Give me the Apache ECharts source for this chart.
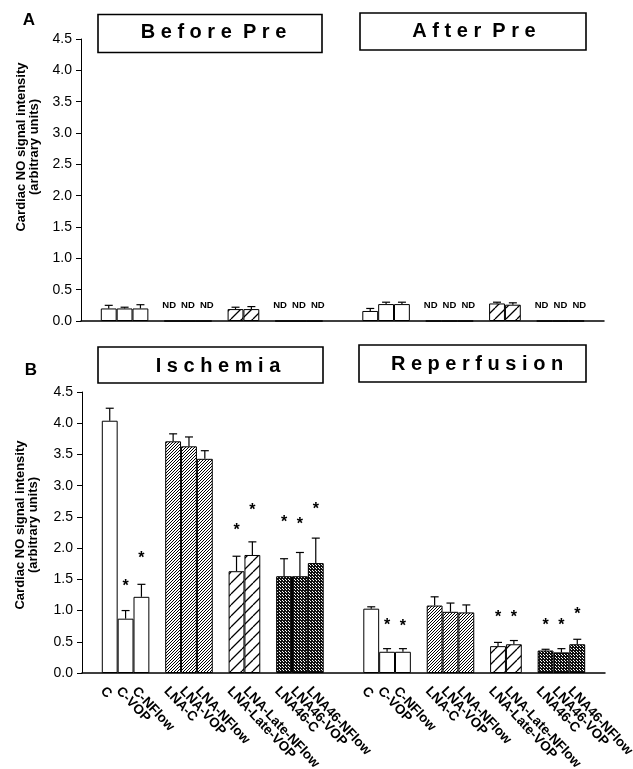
<!DOCTYPE html>
<html>
<head>
<meta charset="utf-8">
<style>
html,body{margin:0;padding:0;background:#fff;}
#chart{width:633px;height:769px;}
</style>
<script src="https://cdn.jsdelivr.net/npm/echarts@6/dist/echarts.min.js"></script>
</head>
<body>
<div id="chart"></div>
<script>
// ---- data ----
const names = ['C','C-VOP','C-NFlow','LNA-C','LNA-VOP','LNA-NFlow','LNA-Late-VOP','LNA-Late-NFlow','LNA46-C','LNA46-VOP','LNA46-NFlow'];
const groupOf = [0,0,0,1,1,1,2,2,3,3,3];
const yTicks = [0,0.5,1.0,1.5,2.0,2.5,3.0,3.5,4.0,4.5];

const beforePre    = [0.20,0.20,0.20,'ND','ND','ND',0.19,0.19,'ND','ND','ND'];
const beforePreErr = [0.05,0.02,0.06,0,0,0,0.03,0.04,0,0,0];
const afterPre     = [0.16,0.27,0.27,'ND','ND','ND',0.28,0.26,'ND','ND','ND'];
const afterPreErr  = [0.04,0.03,0.03,0,0,0,0.02,0.03,0,0,0];

const ischemia     = [4.04,0.87,1.22,3.71,3.63,3.43,1.63,1.89,1.55,1.55,1.76];
const ischemiaErr  = [0.20,0.13,0.20,0.12,0.15,0.13,0.24,0.21,0.28,0.38,0.40];
const ischemiaStar = [null,1.45,1.89,null,null,null,2.35,2.67,2.47,2.44,2.68];

const reperfusion     = [1.03,0.34,0.34,1.08,0.98,0.97,0.43,0.46,0.36,0.33,0.46];
const reperfusionErr  = [0.03,0.05,0.05,0.14,0.14,0.12,0.06,0.06,0.02,0.06,0.08];
const reperfusionStar = [null,0.83,0.81,null,null,null,0.95,0.95,0.83,0.83,1.00];

// ---- layout (half-slot category grid) ----
const NSLOT = 66;
const pos = [];
(function(){
  let p = 3;
  for (let h = 0; h < 2; h++) {
    for (let k = 0; k < names.length; k++) {
      if (k > 0 && groupOf[k] !== groupOf[k-1]) p += 2;
      pos.push(p); p += 2;
    }
    p += 5;
  }
})();
const cats = new Array(NSLOT).fill('');
pos.forEach((p, i) => { cats[p] = names[i % names.length]; });

// ---- patterns ----
function hatch(size, lw) {
  const c = document.createElement('canvas'); c.width = c.height = size;
  const g = c.getContext('2d');
  g.fillStyle = '#fff'; g.fillRect(0,0,size,size);
  g.strokeStyle = '#000'; g.lineWidth = lw; g.beginPath();
  [-size, 0, size].forEach(o => { g.moveTo(o, size); g.lineTo(o + size, 0); });
  g.stroke();
  return c;
}
function dots() {
  const c = document.createElement('canvas'); c.width = c.height = 3;
  const g = c.getContext('2d');
  g.fillStyle = '#111'; g.fillRect(0,0,3,3);
  g.fillStyle = '#fff'; g.fillRect(0,0,1,1); g.fillRect(1,1,1,1);
  return c;
}
const fills = ['#ffffff', {image: hatch(3, 1), repeat: 'repeat'}, {image: hatch(11, 1.3), repeat: 'repeat'}, {image: dots(), repeat: 'repeat'}];

function barData(left, right) {
  const out = new Array(NSLOT).fill(null);
  left.concat(right).forEach((v, i) => {
    const k = i % names.length;
    const g = groupOf[k];
    if (v === 'ND') {
      // spread the three ND labels of a group a little
      const first = groupOf.indexOf(g), last = groupOf.lastIndexOf(g);
      const dx = k === first ? -3 : (k === last ? 3 : 0);
      out[pos[i]] = {value: 0, itemStyle: {color: '#000', borderWidth: 1.5},
        label: {show: true, formatter: 'ND', offset: [dx, 0]}};
    } else {
      out[pos[i]] = {value: v, itemStyle: {color: fills[g]}};
    }
  });
  return out;
}
function errData(left, right, le, re) {
  const vals = left.concat(right), errs = le.concat(re), out = [];
  vals.forEach((v, i) => { if (v !== 'ND' && errs[i] > 0) out.push([pos[i], v, errs[i]]); });
  return out;
}
function starData(left, right) {
  const out = [];
  left.concat(right).forEach((s, i) => { if (s != null) out.push([pos[i], s]); });
  return out;
}

const FONT = 'Liberation Sans, Arial, Helvetica, sans-serif';
const slotW = 523 / NSLOT;

function errRender(params, api) {
  const x = api.value(0), v = api.value(1), e = api.value(2);
  const p0 = api.coord([x, v]), p1 = api.coord([x, v + e]);
  const st = {stroke: '#000', lineWidth: 1.2};
  return {type: 'group', children: [
    {type: 'line', shape: {x1: p0[0], y1: p0[1], x2: p1[0], y2: p1[1]}, style: st},
    {type: 'line', shape: {x1: p1[0] - 4, y1: p1[1], x2: p1[0] + 4, y2: p1[1]}, style: st}
  ]};
}
function starRender(params, api) {
  const p = api.coord([api.value(0), api.value(1)]);
  return {type: 'text', x: p[0], y: p[1] + 4, style: {text: '*', font: 'bold 16px ' + FONT, fill: '#000', align: 'center', verticalAlign: 'middle'}};
}

function yAxis(i, show) {
  return {
    gridIndex: i, type: 'value', min: 0, max: 4.5, interval: 0.5, show: show,
    axisLine: {show: true, lineStyle: {color: '#000', width: 1}},
    axisTick: {show: true, length: 5, lineStyle: {color: '#000'}},
    splitLine: {show: false},
    axisLabel: {color: '#000', fontSize: 14, fontFamily: FONT, margin: 9,
      formatter: v => yTicks.includes(v) ? v.toFixed(1) : ''}
  };
}
function xAxis(i, showLabels, showLine) {
  return {
    gridIndex: i, type: 'category', data: cats, boundaryGap: true,
    axisLine: {show: showLine, lineStyle: {color: '#000', width: 1.5}},
    axisTick: {show: false},
    axisLabel: {show: showLabels, interval: 0, rotate: -47, margin: 16, color: '#000',
      fontSize: 13.5, fontWeight: 'bold', fontFamily: FONT, hideOverlap: false}
  };
}

const chart = echarts.init(document.getElementById('chart'), null, {renderer: 'canvas'});
const box = (x, y, w, h, cx, cy, txt) => ([
  {type: 'rect', shape: {x: x, y: y, width: w, height: h}, style: {fill: '#fff', stroke: '#000', lineWidth: 1.6}},
  {type: 'text', x: cx, y: cy, style: {text: txt, font: 'bold 20px ' + FONT, fill: '#000', align: 'center', verticalAlign: 'middle'}}
]);

chart.setOption({
  backgroundColor: '#fff',
  animation: false,
  grid: [
    {left: 81, top: 39, width: 523, height: 282, containLabel: false, outerBoundsMode: 'none'},
    {left: 82, top: 392, width: 523, height: 281, containLabel: false, outerBoundsMode: 'none'},
    // label-only grid for the category names of panel B (names sit slightly left of bar centres)
    {left: 75, top: 392, width: 523, height: 281, containLabel: false, outerBoundsMode: 'none'}
  ],
  xAxis: [xAxis(0, false, true), xAxis(1, false, true), xAxis(2, true, false)],
  yAxis: [yAxis(0, true), yAxis(1, true), yAxis(2, false)],
  graphic: [].concat(
    box(98, 14.5, 224, 38, 213.5, 32.5, 'B e f o r e  P r e'),
    box(360, 13, 226, 37, 474, 31.5, 'A f t e r  P r e'),
    box(98, 347, 225, 36, 218, 366, 'I s c h e m i a'),
    box(359, 345, 227, 37, 477, 364, 'R e p e r f u s i o n'),
    [
      {type: 'text', x: 29, y: 20, style: {text: 'A', font: 'bold 17px ' + FONT, fill: '#000', align: 'center', verticalAlign: 'middle'}},
      {type: 'text', x: 31, y: 370, style: {text: 'B', font: 'bold 17px ' + FONT, fill: '#000', align: 'center', verticalAlign: 'middle'}},
      {type: 'text', x: 21, y: 147, rotation: Math.PI / 2, style: {text: 'Cardiac NO signal intensity', font: 'bold 13px ' + FONT, fill: '#000', align: 'center', verticalAlign: 'middle'}},
      {type: 'text', x: 34.5, y: 147, rotation: Math.PI / 2, style: {text: '(arbitrary units)', font: 'bold 13px ' + FONT, fill: '#000', align: 'center', verticalAlign: 'middle'}},
      {type: 'text', x: 20, y: 525, rotation: Math.PI / 2, style: {text: 'Cardiac NO signal intensity', font: 'bold 13px ' + FONT, fill: '#000', align: 'center', verticalAlign: 'middle'}},
      {type: 'text', x: 33.5, y: 525, rotation: Math.PI / 2, style: {text: '(arbitrary units)', font: 'bold 13px ' + FONT, fill: '#000', align: 'center', verticalAlign: 'middle'}}
    ]
  ),
  series: [
    {type: 'bar', xAxisIndex: 0, yAxisIndex: 0, barWidth: slotW * 2, data: barData(beforePre, afterPre),
      itemStyle: {borderColor: '#000', borderWidth: 1},
      label: {show: false, position: 'top', distance: 10, color: '#000', fontSize: 9.5, fontWeight: 'bold', fontFamily: FONT}},
    {type: 'custom', xAxisIndex: 0, yAxisIndex: 0, renderItem: errRender, data: errData(beforePre, afterPre, beforePreErr, afterPreErr), z: 5},
    {type: 'bar', xAxisIndex: 1, yAxisIndex: 1, barWidth: slotW * 2, data: barData(ischemia, reperfusion),
      itemStyle: {borderColor: '#000', borderWidth: 1}},
    {type: 'custom', xAxisIndex: 1, yAxisIndex: 1, renderItem: errRender, data: errData(ischemia, reperfusion, ischemiaErr, reperfusionErr), z: 5},
    {type: 'custom', xAxisIndex: 1, yAxisIndex: 1, renderItem: starRender, data: starData(ischemiaStar, reperfusionStar), z: 6}
  ]
});
</script>
</body>
</html>
